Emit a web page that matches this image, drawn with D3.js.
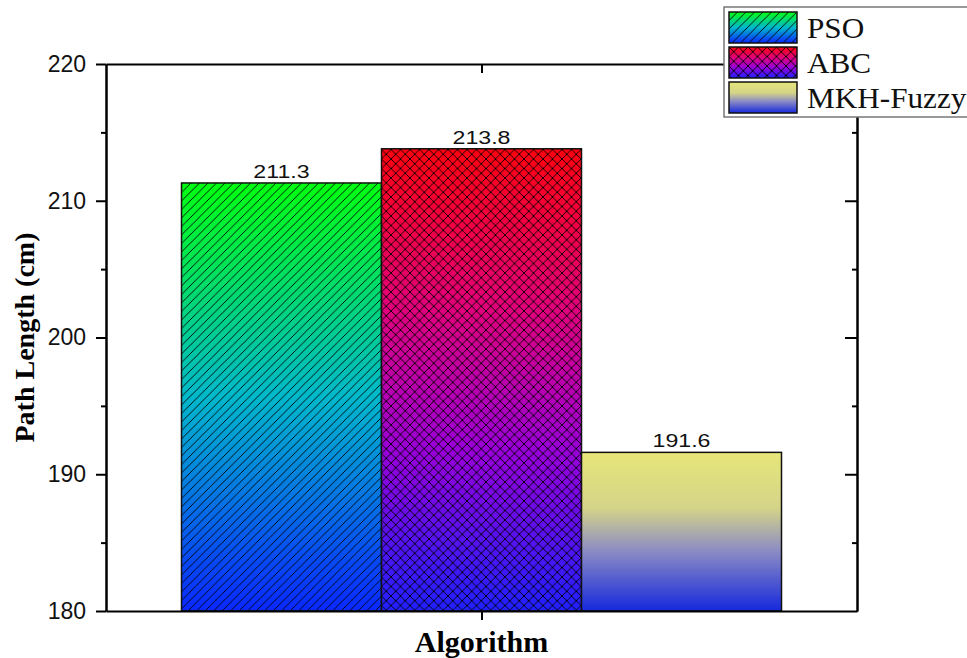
<!DOCTYPE html>
<html>
<head>
<meta charset="utf-8">
<script src="https://cdnjs.cloudflare.com/ajax/libs/d3/7.8.5/d3.min.js"></script>
<style>
  body { margin: 0; background: #fff; }
  .tick text { font-family: "Liberation Sans", Arial, sans-serif; }
</style>
</head>
<body>
<div id="chart"></div>
<script>
// data
var algorithms = ['PSO', 'ABC', 'MKH-Fuzzy'];
var pathLength = [211.3, 213.8, 191.6];
var groupName  = ['Algorithm'];
var yMajorTicks = [180, 190, 200, 210, 220];
var yMinorTicks = [185, 195, 205, 215];

var fills = {
    'PSO':       { stops: [[0, '#00ff10'], [0.5, '#00b8cc'], [1, '#0a28ff']], hatch: 'diag' },
    'ABC':       { stops: [[0, '#ff0010'], [0.35, '#e0007c'], [0.65, '#9a00d8'], [1, '#2020ff']], hatch: 'cross' },
    'MKH-Fuzzy': { stops: [[0, '#e6e67a'], [0.35, '#d4d488'], [0.62, '#8c8cc4'], [1, '#1628dc']], hatch: null }
};

var W = 967, H = 658;
var margin = { top: 64, right: 110, bottom: 47, left: 106 };
var width  = W - margin.left - margin.right,
    height = H - margin.top - margin.bottom;

var svg = d3.select('#chart').append('svg')
    .attr('width', W)
    .attr('height', H);

var defs = svg.append('defs');

// gradients for each bar
algorithms.forEach(function(a, i) {
    var g = defs.append('linearGradient')
        .attr('id', 'grad' + i)
        .attr('x1', 0).attr('y1', 0).attr('x2', 0).attr('y2', 1);
    fills[a].stops.forEach(function(s) {
        g.append('stop').attr('offset', s[0]).attr('stop-color', s[1]);
    });
});

// hatch patterns
var diag = defs.append('pattern')
    .attr('id', 'hatch-diag')
    .attr('patternUnits', 'userSpaceOnUse')
    .attr('width', 8.5).attr('height', 8.5);
diag.append('path')
    .attr('d', 'M-2,2 L2,-2 M0,8.5 L8.5,0 M6.5,10.5 L10.5,6.5')
    .attr('stroke', '#000').attr('stroke-width', 0.9);

var cross = defs.append('pattern')
    .attr('id', 'hatch-cross')
    .attr('patternUnits', 'userSpaceOnUse')
    .attr('width', 9.5).attr('height', 9.5);
cross.append('path')
    .attr('d', 'M-2,2 L2,-2 M0,9.5 L9.5,0 M7.5,11.5 L11.5,7.5 M-2,7.5 L2,11.5 M0,0 L9.5,9.5 M7.5,-2 L11.5,2')
    .attr('stroke', '#000').attr('stroke-width', 0.9);

var g = svg.append('g')
    .attr('transform', 'translate(' + margin.left + ',' + margin.top + ')');

// scales
var y = d3.scaleLinear().domain([180, 220]).range([height, 0]);
var xGroup = d3.scalePoint().domain(groupName).range([0, width]).padding(0.5);
var barW = 200;
var center = xGroup('Algorithm');
var xBar = d3.scaleBand().domain(algorithms)
    .range([center - barW * algorithms.length / 2, center + barW * algorithms.length / 2])
    .padding(0);

// bars
var bars = g.selectAll('.bar').data(algorithms).enter().append('g').attr('class', 'bar');
bars.append('rect')
    .attr('x', function(d) { return xBar(d); })
    .attr('y', function(d, i) { return y(pathLength[i]); })
    .attr('width', xBar.bandwidth())
    .attr('height', function(d, i) { return height - y(pathLength[i]); })
    .attr('fill', function(d, i) { return 'url(#grad' + i + ')'; });
bars.filter(function(d) { return fills[d].hatch; }).append('rect')
    .attr('x', function(d) { return xBar(d); })
    .attr('y', function(d) { return y(pathLength[algorithms.indexOf(d)]); })
    .attr('width', xBar.bandwidth())
    .attr('height', function(d) { return height - y(pathLength[algorithms.indexOf(d)]); })
    .attr('fill', function(d) { return 'url(#hatch-' + fills[d].hatch + ')'; });
bars.append('rect')
    .attr('x', function(d) { return xBar(d); })
    .attr('y', function(d, i) { return y(pathLength[i]); })
    .attr('width', xBar.bandwidth())
    .attr('height', function(d, i) { return height - y(pathLength[i]); })
    .attr('fill', 'none')
    .attr('stroke', '#111')
    .attr('stroke-width', 1.5);

// value labels (the source image is a bit stretched sideways)
bars.append('text')
    .attr('transform', function(d, i) {
        return 'translate(' + (xBar(d) + xBar.bandwidth() / 2) + ',' + (y(pathLength[i]) - 5) + ') scale(1.22,1)';
    })
    .attr('text-anchor', 'middle')
    .style('font-family', '"Liberation Sans", Arial, sans-serif')
    .style('font-size', '19px')
    .attr('fill', '#111')
    .text(function(d, i) { return pathLength[i].toFixed(1); });

// axes
function styleAxis(sel) {
    sel.select('.domain').attr('stroke', '#000').attr('stroke-width', 2);
    sel.selectAll('.tick line').attr('stroke', '#000').attr('stroke-width', 2);
}

g.append('g')
    .call(d3.axisLeft(y).tickValues(yMajorTicks).tickSize(10).tickPadding(10).tickSizeOuter(0))
    .call(styleAxis)
    .selectAll('text').style('font-size', '23px').attr('fill', '#111');
g.append('g')
    .call(d3.axisLeft(y).tickValues(yMinorTicks).tickSize(5).tickFormat('').tickSizeOuter(0))
    .call(styleAxis);

g.append('g')
    .attr('transform', 'translate(' + width + ',0)')
    .call(d3.axisRight(y).tickValues(yMajorTicks.slice(1, -1)).tickSize(-12).tickFormat('').tickSizeOuter(0))
    .call(styleAxis);
g.append('g')
    .attr('transform', 'translate(' + width + ',0)')
    .call(d3.axisRight(y).tickValues(yMinorTicks).tickSize(-5).tickFormat('').tickSizeOuter(0))
    .call(styleAxis);

g.append('g')
    .attr('transform', 'translate(0,' + height + ')')
    .call(d3.axisBottom(xGroup).tickSize(9).tickFormat('').tickSizeOuter(0))
    .call(styleAxis);
g.append('g')
    .call(d3.axisTop(xGroup).tickSize(-9).tickFormat('').tickSizeOuter(0))
    .call(styleAxis);

// axis titles
g.append('text')
    .attr('x', center)
    .attr('y', height + 41)
    .attr('text-anchor', 'middle')
    .style('font-family', '"Liberation Serif", "Times New Roman", serif')
    .style('font-weight', 'bold')
    .style('font-size', '30px')
    .text('Algorithm');

svg.append('text')
    .attr('transform', 'translate(34,' + (margin.top + height / 2) + ') rotate(-90)')
    .attr('text-anchor', 'middle')
    .style('font-family', '"Liberation Serif", "Times New Roman", serif')
    .style('font-weight', 'bold')
    .style('font-size', '28px')
    .text('Path Length (cm)');

// legend
var legend = svg.append('g').attr('transform', 'translate(724,7)');
legend.append('rect')
    .attr('width', 244).attr('height', 110)
    .attr('fill', '#fff')
    .attr('stroke', '#777').attr('stroke-width', 1.5);
var items = legend.selectAll('.item').data(algorithms).enter().append('g')
    .attr('transform', function(d, i) { return 'translate(5,' + (5 + i * 35) + ')'; });
items.append('rect')
    .attr('width', 68).attr('height', 31)
    .attr('fill', function(d, i) { return 'url(#grad' + i + ')'; });
items.filter(function(d) { return fills[d].hatch; }).append('rect')
    .attr('width', 68).attr('height', 31)
    .attr('fill', function(d) { return 'url(#hatch-' + fills[d].hatch + ')'; });
items.append('rect')
    .attr('width', 68).attr('height', 31)
    .attr('fill', 'none').attr('stroke', '#111').attr('stroke-width', 1.5);
items.append('text')
    .attr('transform', 'translate(78,26) scale(1.04,1)')
    .style('font-family', '"Liberation Serif", "Times New Roman", serif')
    .style('font-size', '30px')
    .attr('fill', '#111')
    .text(function(d) { return d; });
</script>
</body>
</html>
